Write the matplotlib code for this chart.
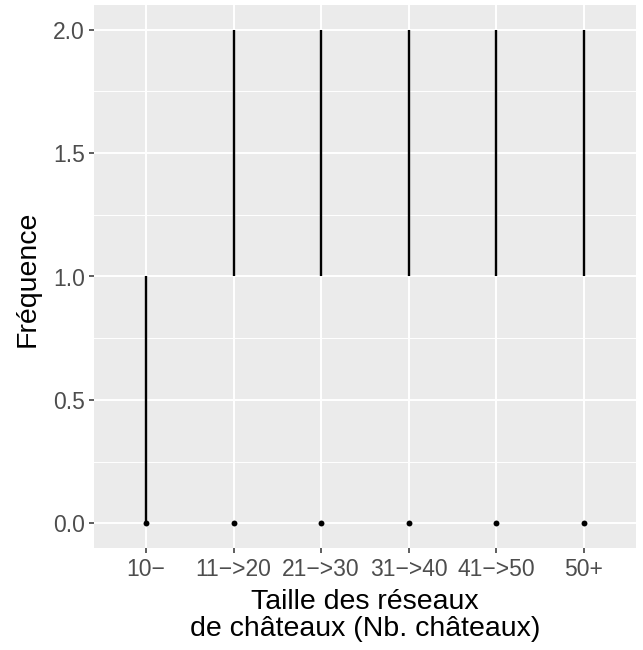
import matplotlib
matplotlib.use("Agg")
import matplotlib.pyplot as plt
import numpy as np

categories = ["10\u2212", "11\u2212>20", "21\u2212>30", "31\u2212>40", "41\u2212>50", "50+"]
seg_start = [0, 1, 1, 1, 1, 1]
seg_end = [1, 2, 2, 2, 2, 2]
point_y = [0, 0, 0, 0, 0, 0]
y_ticks = [0.0, 0.5, 1.0, 1.5, 2.0]
y_minor = [0.25, 0.75, 1.25, 1.75]

plt.rcParams['font.family'] = ['Liberation Sans', 'DejaVu Sans']

fig = plt.figure(figsize=(6.43, 6.5), dpi=100)
ax = fig.add_axes([93.5/643, 1 - 548/650, (636 - 93.5)/643, (548 - 5)/650])
ax.set_facecolor('#EBEBEB')

x = np.arange(1, len(categories) + 1)

ax.set_xlim(0.4, 6.6)
ax.set_ylim(-0.1, 2.1)

for yv in y_minor:
    ax.axhline(yv, color='white', lw=0.7, zorder=0)
for yv in y_ticks:
    ax.axhline(yv, color='white', lw=1.4, zorder=0)
for xv in x:
    ax.axvline(xv, color='white', lw=1.4, zorder=0)

ax.vlines(x, seg_start, seg_end, color='black', lw=1.7, zorder=2)
ax.scatter(x, point_y, s=18, color='black', zorder=3, linewidths=0)

ax.set_xticks(x)
ax.set_xticklabels(categories)
ax.set_yticks(y_ticks)
ax.set_yticklabels([f"{v:.1f}" for v in y_ticks])
ax.tick_params(axis='both', which='major', length=3.6, width=1.1, color='#333333',
               labelcolor='#4D4D4D', labelsize=16.5, pad=2.5)
ax.tick_params(axis='x', pad=3.5)

for s in ax.spines.values():
    s.set_visible(False)

ax.set_xlabel("Taille des réseaux\nde châteaux (Nb. châteaux)", fontsize=20.5, color='black',
              linespacing=1.05)
ax.xaxis.set_label_coords(0.5, (548 - 589) / 543)
ax.xaxis.label.set_va('top')
ax.set_ylabel("Fréquence", fontsize=20.5, color='black')
ax.yaxis.set_label_coords((28 - 93.5) / 542.5, 0.495)
ax.yaxis.label.set_va('center')

fig.savefig("out.png", dpi=100, facecolor='white')
